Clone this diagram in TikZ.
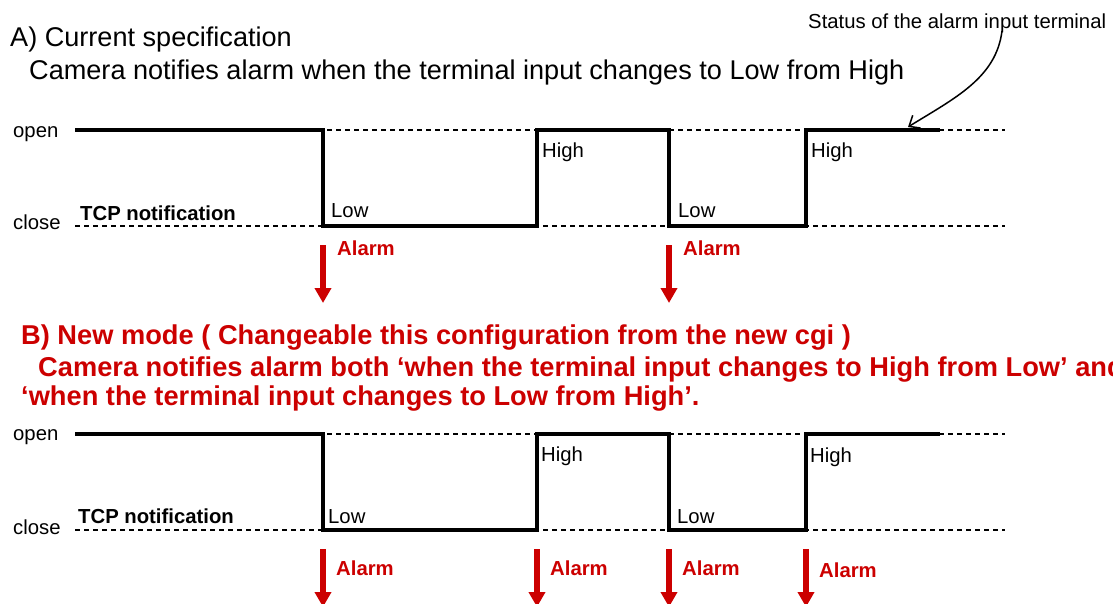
\documentclass[tikz,border=0pt]{standalone}
\usepackage{fontspec}
\setmainfont{Liberation Sans}
\usetikzlibrary{arrows.meta}
\definecolor{AlarmRed}{HTML}{CC0000}
\tikzset{
  lbl/.style={inner sep=0pt,anchor=base west,font=\fontsize{20.3}{24}\selectfont},
  lblbold/.style={lbl,font=\fontsize{20.3}{24}\selectfont\bfseries},
  alarmlbl/.style={lblbold,text=AlarmRed},
  ttl/.style={inner sep=0pt,anchor=base west,font=\fontsize{27.1}{32}\selectfont},
  ttlred/.style={ttl,font=\fontsize{27.25}{32}\selectfont\bfseries,text=AlarmRed},
  level/.style={draw=black,line width=2pt,dash pattern=on 5pt off 4pt},
  signal/.style={draw=black,line width=4.6pt,line join=miter},
  alarm/.style={-{Triangle[length=15pt,width=16pt]},draw=AlarmRed,line width=5.5pt},
  note/.style={-{Straight Barb[length=9pt,width=15pt]},draw=black,line width=1.5pt}
}

\begin{document}
\begin{tikzpicture}[x=1pt,y=-1pt]
  \useasboundingbox (0,0) rectangle (1113,603);

  % headings
  \node[lbl] (status) at (808,28) {Status of the alarm input terminal};
  \node[ttl] (titleA) at (10,46) {A) Current specification};
  \node[ttl] (specA) at (29,79) {Camera notifies alarm when the terminal input changes to Low from High};
  \node[ttlred] (titleB) at (21,344) {B) New mode ( Changeable this configuration from the new cgi )};
  \node[ttlred] (specB1) at (38,376) {Camera notifies alarm both `when the terminal input changes to High from Low' and};
  \node[ttlred] (specB2) at (21,405) {`when the terminal input changes to Low from High'.};

  % levels and signal, both modes
  \foreach \dy/\sec in {0/A,304/B}{
    \draw[level] (75,130+\dy) -- (1005,130+\dy);
    \draw[level] (75,226+\dy) -- (1005,226+\dy);
    \draw[signal] (75,130+\dy) -- (323,130+\dy) -- (323,226+\dy) -- (537,226+\dy)
      -- (537,130+\dy) -- (669,130+\dy) -- (669,226+\dy) -- (806,226+\dy)
      -- (806,130+\dy) -- (940,130+\dy);
  }

  % mode A labels
  \node[lbl] (openA) at (13,137) {open};
  \node[lbl] (closeA) at (13,229) {close};
  \node[lblbold] (tcpA) at (80,220) {TCP notification};
  \node[lbl] (lowA1) at (331,217) {Low};
  \node[lbl] (highA1) at (542,157) {High};
  \node[lbl] (lowA2) at (678,217) {Low};
  \node[lbl] (highA2) at (811,157) {High};

  % mode B labels
  \node[lbl] (openB) at (13,440) {open};
  \node[lbl] (closeB) at (13,534) {close};
  \node[lblbold] (tcpB) at (78,523) {TCP notification};
  \node[lbl] (lowB1) at (328,523) {Low};
  \node[lbl] (highB1) at (541,461) {High};
  \node[lbl] (lowB2) at (677,523) {Low};
  \node[lbl] (highB2) at (810,462) {High};

  % alarms, mode A
  \foreach \x/\n in {323/1,669/2}{
    \coordinate (alarmA\n) at (\x,245);
    \coordinate (alarmA\n tip) at (\x,303);
    \draw[alarm] (alarmA\n) -- (alarmA\n tip);
    \node[alarmlbl] (alarmA\n lbl) at (\x+14,255) {Alarm};
  }

  % alarms, mode B
  \foreach \x/\n/\b in {323/1/575,537/2/575,669/3/575,806/4/577}{
    \coordinate (alarmB\n) at (\x,549);
    \coordinate (alarmB\n tip) at (\x,607);
    \draw[alarm] (alarmB\n) -- (alarmB\n tip);
    \node[alarmlbl] (alarmB\n lbl) at (\x+13,\b) {Alarm};
  }

  % pointer to the signal
  \coordinate (statusfoot) at (1002,31);
  \coordinate (signaltip) at (908,127);
  \draw[note] (statusfoot) .. controls (996,78) and (955,98) .. (signaltip);
\end{tikzpicture}
\end{document}
